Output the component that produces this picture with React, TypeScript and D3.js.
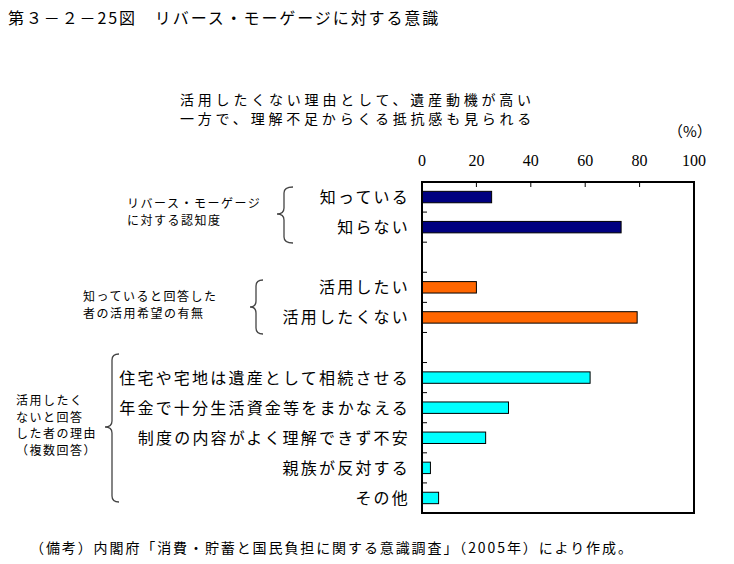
import React from "react";
import * as d3 from "d3";

const categories = [
  "知っている",
  "知らない",
  "",
  "活用したい",
  "活用したくない",
  " ",
  "住宅や宅地は遺産として相続させる",
  "年金で十分生活資金等をまかなえる",
  "制度の内容がよく理解できず不安",
  "親族が反対する",
  "その他",
];
const values: (number | null)[] = [25.6, 73.2, null, 20.0, 79.1, null, 61.8, 31.8, 23.4, 3.1, 6.1];
const barColors = ["#000080", "#000080", "", "#FF6600", "#FF6600", "", "#00FFFF", "#00FFFF", "#00FFFF", "#00FFFF", "#00FFFF"];
const xTicks = [0, 20, 40, 60, 80, 100];

const groupLabels = [
  ["リバース・モーゲージ", "に対する認知度"],
  ["知っていると回答した", "者の活用希望の有無"],
  ["活用したく", "ないと回答", "した者の理由", "（複数回答）"],
];

const titleText = "第３－２－25図　リバース・モーゲージに対する意識";
const subtitleLines = ["活用したくない理由として、遺産動機が高い", "一方で、理解不足からくる抵抗感も見られる"];
const noteText = "（備考）内閣府「消費・貯蓄と国民負担に関する意識調査」（2005年）により作成。";

const JP = "'Noto Sans CJK JP', sans-serif";

export default function App() {
  const left = 422, right = 694, top = 182, bottom = 513;
  const x = d3.scaleLinear().domain([0, 100]).range([left, right]);
  const keys = categories.map((c, i) => `${i}`);
  const y = d3.scaleBand().domain(keys).range([top, bottom]).paddingInner(0.62).paddingOuter(0.31);
  const step = y.step();
  const slotTop = (i: number) => top + i * step;

  const braceGeom = [
    { tip: 277, line: 284, end: 293, y0: 187, y1: 243, ym: 214 },
    { tip: 250, line: 256, end: 263, y0: 280, y1: 334, ym: 307 },
    { tip: 105, line: 112, end: 119, y0: 354, y1: 502, ym: 427 },
  ];
  const bracePath = (b: any) => {
    const r = 6;
    return `M${b.end},${b.y0} Q${b.line},${b.y0} ${b.line},${b.y0 + r} L${b.line},${b.ym - r} Q${b.line},${b.ym} ${b.tip},${b.ym} Q${b.line},${b.ym} ${b.line},${b.ym + r} L${b.line},${b.y1 - r} Q${b.line},${b.y1} ${b.end},${b.y1}`;
  };
  const groupLabelPos = [
    { x: 127, y: 204 },
    { x: 83, y: 297 },
    { x: 16, y: 401 },
  ];

  return (
    <svg width={734} height={564} style={{ position: "absolute", left: 0, top: 0, background: "#fff" }}>
      <rect x={0} y={0} width={734} height={564} fill="#fff" />
      <text x={8} y={24} fontFamily={JP} fontSize={16} letterSpacing={1.9} fill="#000">
        {titleText}
      </text>
      {subtitleLines.map((l, i) => (
        <text key={i} x={180} y={105 + i * 18.5} fontFamily={JP} fontSize={14} letterSpacing={3.8} fill="#000">
          {l}
        </text>
      ))}
      <text x={668} y={137} fontFamily={JP} fontSize={15} fill="#000">
        （%）
      </text>
      {xTicks.map((t) => (
        <text key={t} x={x(t)} y={166} textAnchor="middle" fontFamily="'Liberation Serif', serif" fontSize={16} fill="#000">
          {t}
        </text>
      ))}
      {values.map((v, i) =>
        v == null ? null : (
          <rect
            key={i}
            x={x(0)}
            y={y(keys[i])!}
            width={x(v) - x(0)}
            height={y.bandwidth()}
            fill={barColors[i]}
            stroke="#000"
            strokeWidth={1}
          />
        )
      )}
      <rect x={left} y={top} width={right - left} height={bottom - top} fill="none" stroke="#000" strokeWidth={2} />
      {xTicks.slice(1, -1).map((t) => (
        <line key={t} x1={x(t)} x2={x(t)} y1={top} y2={top + 5} stroke="#000" strokeWidth={1} />
      ))}
      {categories.slice(1).map((_, i) => (
        <line key={i} x1={left} x2={left + 5} y1={slotTop(i + 1)} y2={slotTop(i + 1)} stroke="#000" strokeWidth={1} />
      ))}
      {categories.map((c, i) =>
        c.trim() === "" ? null : (
          <text
            key={i}
            x={410}
            y={(y(keys[i]) as number) + y.bandwidth() / 2 + 6}
            textAnchor="end"
            fontFamily={JP}
            fontSize={16}
            letterSpacing={2.2}
            fill="#000"
          >
            {c}
          </text>
        )
      )}
      {braceGeom.map((b, i) => (
        <path key={i} d={bracePath(b)} fill="none" stroke="#444" strokeWidth={1.3} />
      ))}
      {groupLabels.map((lines, g) =>
        lines.map((l, j) => (
          <text
            key={`${g}-${j}`}
            x={groupLabelPos[g].x}
            y={groupLabelPos[g].y + j * 16.5 + 4}
            fontFamily={JP}
            fontSize={12}
            letterSpacing={1.5}
            fill="#000"
          >
            {l}
          </text>
        ))
      )}
      <text x={30} y={553} fontFamily={JP} fontSize={14} letterSpacing={1.9} fill="#000">
        {noteText}
      </text>
    </svg>
  );
}
